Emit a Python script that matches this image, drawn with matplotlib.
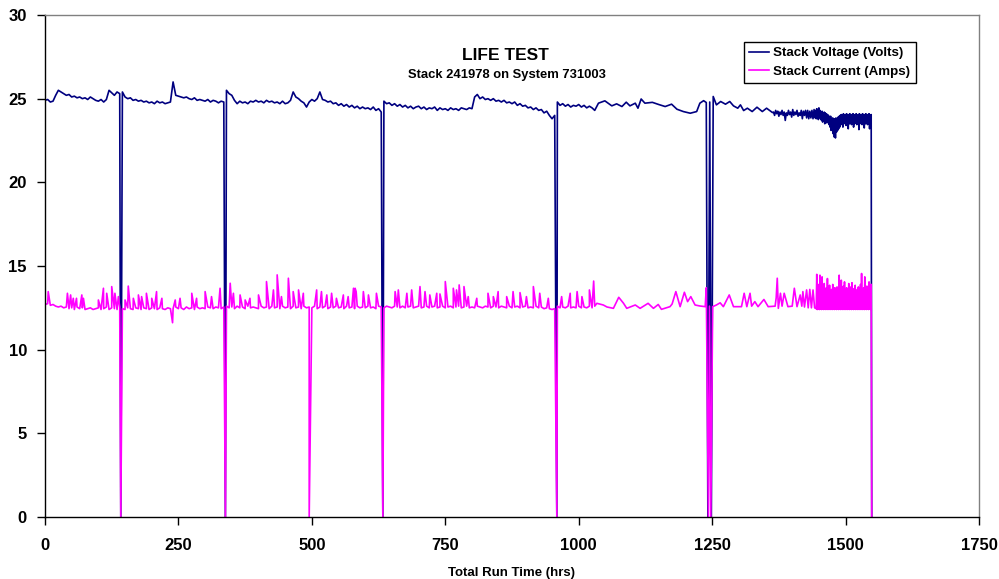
import numpy as np
import matplotlib
matplotlib.use("Agg")
import matplotlib.pyplot as plt

# ---------------- data ----------------
# Stack voltage, logged every 5 h from 0 to 1030 h
volt_dense_step = 5
volt_dense = [
    24.9, 24.95, 24.8, 24.85, 25.2, 25.5, 25.4, 25.3, 25.2, 25.25,
    25.1, 25.15, 25.05, 25.1, 25.0, 25.05, 24.95, 25.1, 25.0, 24.9,
    24.85, 24.95, 24.8, 24.95, 25.5, 25.35, 25.2, 25.4, 25.3, 25.4,
    25.1, 25.0, 25.05, 24.9, 24.95, 24.85, 24.9, 24.8, 24.85, 24.75,
    24.8, 24.7, 24.85, 24.75, 24.8, 24.7, 24.75, 24.8, 26.0, 25.2,
    25.15, 25.1, 25.05, 25.1, 25.0, 24.95, 25.05, 24.9, 24.95, 24.9,
    24.85, 24.95, 24.8, 24.9, 24.85, 24.75, 24.85, 24.8, 25.5, 25.3,
    25.2, 24.9, 24.7, 24.85, 24.75, 24.8, 24.7, 24.85, 24.8, 24.9,
    24.8, 24.85, 24.75, 24.9, 24.8, 24.85, 24.75, 24.8, 24.7, 24.85,
    24.7, 24.75, 24.9, 25.4, 25.1, 25.0, 24.85, 24.75, 24.5, 24.8,
    24.95, 24.85, 25.0, 25.4, 24.95, 24.9, 24.8, 24.85, 24.7, 24.75,
    24.6, 24.7, 24.55, 24.65, 24.5, 24.6, 24.45, 24.55, 24.4, 24.5,
    24.4, 24.45, 24.35, 24.5, 24.3, 24.4, 24.2, 24.85, 24.7, 24.75,
    24.6, 24.7, 24.55, 24.65, 24.5, 24.6, 24.45, 24.55, 24.4, 24.5,
    24.55, 24.4, 24.5, 24.35, 24.45, 24.4, 24.5, 24.3, 24.45, 24.35,
    24.4, 24.3, 24.45, 24.35, 24.4, 24.3, 24.45, 24.4, 24.35, 24.45,
    24.4, 25.1, 25.25, 25.0, 25.1, 24.95, 25.0, 24.9, 25.0, 24.85,
    24.9, 24.8, 24.9, 24.75, 24.8, 24.7, 24.8, 24.6, 24.7, 24.55,
    24.6, 24.45, 24.5, 24.35, 24.45, 24.3, 24.35, 24.15, 24.25, 24.0,
    23.8, 24.0, 24.8, 24.6, 24.7, 24.55, 24.65, 24.5, 24.6, 24.55,
    24.65, 24.5, 24.6, 24.45, 24.55, 24.45, 24.3,
]
# sparse readings and shutdowns (hours, volts)
volt_sparse_hrs = [142, 338, 633, 959,
                   1037, 1049, 1062, 1071, 1081, 1089, 1096, 1106, 1111, 1117,
                   1124, 1138, 1150, 1162, 1174, 1184, 1196, 1209, 1221, 1227,
                   1234, 1239, 1242, 1245.5, 1248.5, 1252, 1258, 1266, 1275,
                   1283, 1290, 1298, 1303, 1309, 1316, 1325, 1334, 1344, 1352,
                   1363]
volt_sparse = [0, 0, 0, 0,
               24.73, 24.87, 24.57, 24.69, 24.53, 24.79, 24.57, 24.73, 24.43, 24.98,
               24.73, 24.78, 24.65, 24.53, 24.67, 24.37, 24.23, 24.13, 24.23, 24.73,
               24.88, 24.77, 0, 24.8, 0, 25.13, 24.63, 24.83, 24.67,
               24.83, 24.57, 24.43, 24.63, 24.29, 24.43, 24.23, 24.49, 24.23, 24.43,
               24.17]
# 2-hourly readings 1365-1443 h
volt_mid_start, volt_mid_step = 1365, 2
volt_mid = [24.2, 24.0, 24.3, 24.1, 24.25, 23.95, 24.2, 24.05, 24.3, 24.0,
            24.2, 23.7, 24.15, 24.0, 24.3, 24.05, 24.2, 23.9, 24.35, 24.0,
            24.2, 24.05, 24.3, 23.95, 24.15, 24.0, 24.3, 23.8, 24.25, 24.0,
            24.3, 23.85, 24.3, 23.8, 24.25, 23.85, 24.3, 23.8, 24.35, 23.85]
# hourly readings 1444-1548 h
volt_band_start, volt_band_step = 1444, 1
volt_band = [24.3, 23.8, 24.4, 23.85, 24.35, 23.75, 24.45, 23.9, 24.3, 23.8,
             24.2, 23.7, 24.25, 23.6, 24.1, 23.75, 24.2, 23.5, 24.15, 23.65,
             24.1, 23.55, 24.05, 23.6, 24.0, 23.45,
             23.9, 23.3, 23.95, 23.1, 23.8, 23.2, 23.85, 22.9, 23.75, 22.7,
             23.8, 22.65, 23.85, 23.0, 23.8, 23.1, 23.9, 23.2, 23.95, 23.3,
             24.0, 23.5, 24.05, 23.45, 24.0, 23.3, 24.1, 23.5, 24.0, 23.55,
             24.05, 23.4, 24.1, 23.5, 24.0, 23.2, 24.05, 23.5, 24.1, 23.55,
             24.0, 23.45, 24.05, 23.5, 24.1, 23.3, 24.0, 23.5, 24.05, 23.55,
             24.1, 23.45, 24.0, 23.5, 24.05, 23.15, 24.1, 23.5, 24.0, 23.55,
             24.05, 23.45, 24.1, 23.5, 24.0, 23.25, 24.05, 23.5, 24.1, 23.55,
             24.0, 23.45, 24.05, 23.5, 24.1, 23.2, 24.0, 23.5, 24.05]
volt_end_hrs = [1549]
volt_end = [0]

# Stack current, logged every 5 h from 0 to 1030 h
curr_dense_step = 5
curr_dense = [
    12.7, 12.75, 12.65, 12.7, 12.6, 12.55, 12.6, 12.5, 12.55, 12.45,
    12.5, 12.4, 12.55, 12.45, 12.5, 12.4, 12.45, 12.5, 12.4, 12.45,
    12.5, 12.4, 12.45, 12.55, 12.4, 12.5, 12.45, 12.4, 12.55, 12.45,
    12.4, 12.5, 12.45, 12.4, 12.5, 12.45, 12.4, 12.5, 12.45, 12.4,
    12.5, 12.45, 12.4, 12.5, 12.45, 12.4, 12.5, 12.45, 12.45, 12.55,
    12.45, 12.5, 12.4, 12.55, 12.45, 12.5, 12.4, 12.55, 12.45, 12.5,
    12.45, 12.55, 12.5, 12.45, 12.55, 12.5, 12.45, 12.55, 12.6, 12.5,
    12.55, 12.45, 12.6, 12.5, 12.55, 12.45, 12.6, 12.5, 12.55, 12.5,
    12.45, 12.6, 12.5, 12.55, 12.45, 12.6, 12.5, 12.55, 12.45, 12.6,
    12.5, 12.55, 12.45, 12.6, 12.5, 12.55, 12.45, 12.6, 12.5, 12.55,
    12.5, 12.6, 12.45, 12.55, 12.5, 12.6, 12.45, 12.55, 12.5, 12.6,
    12.5, 12.55, 12.45, 12.6, 12.5, 12.55, 12.45, 12.6, 12.5, 12.55,
    12.5, 12.6, 12.5, 12.55, 12.45, 12.6, 12.55, 12.5, 12.6, 12.55,
    12.5, 12.6, 12.55, 12.5, 12.6, 12.5, 12.55, 12.6, 12.5, 12.55,
    12.6, 12.5, 12.55, 12.6, 12.5, 12.55, 12.6, 12.5, 12.55, 12.6,
    12.5, 12.55, 12.6, 12.5, 12.55, 12.6, 12.5, 12.55, 12.6, 12.5,
    12.55, 12.5, 12.6, 12.55, 12.5, 12.6, 12.55, 12.5, 12.6, 12.55,
    12.5, 12.6, 12.55, 12.5, 12.6, 12.5, 12.55, 12.6, 12.5, 12.55,
    12.6, 12.5, 12.55, 12.5, 12.6, 12.5, 12.55, 12.45, 12.5, 12.45,
    12.4, 12.45, 12.6, 12.5, 12.55, 12.5, 12.6, 12.5, 12.55, 12.5,
    12.6, 12.5, 12.55, 12.5, 12.6, 12.5, 12.6,
]
# current spikes, dips, shutdowns and sparse readings (hours, amps)
curr_events_hrs = [6, 42, 48, 53, 59, 69, 72, 100, 109.5, 115.6, 125, 131, 137.5,
                   142, 150, 156, 165.5, 175, 181, 190, 200, 209, 219, 239, 244,
                   253, 275, 284, 300, 312, 328, 338, 347, 353, 365.5, 375, 384,
                   400, 415, 428, 435, 443, 456, 465, 475, 484, 495, 509, 518,
                   528, 537, 546, 559, 568, 578, 581, 583, 596.5, 606, 621, 633,
                   656, 662, 678, 687, 702.6, 712, 721, 734, 740, 750, 765, 771,
                   776, 785, 793, 809, 830, 840, 849, 865, 877, 890, 902, 915,
                   927, 943, 959, 968, 984, 997, 1006, 1020, 1028,
                   1034, 1046, 1053, 1065, 1075, 1084, 1090, 1106, 1115, 1130,
                   1140, 1149, 1155, 1171, 1175, 1182, 1190, 1198, 1204, 1210,
                   1218, 1227, 1237, 1239, 1243, 1245, 1247.5, 1251, 1258, 1265,
                   1271, 1282, 1290, 1305, 1310, 1315, 1321, 1324, 1330, 1336,
                   1347, 1355, 1368, 1370, 1372, 1374, 1378, 1381, 1385, 1392,
                   1400, 1404, 1409, 1415, 1418, 1420, 1423, 1427, 1430, 1433,
                   1436, 1439, 1442]
curr_events = [13.47, 13.37, 13.27, 13.07, 13.07, 13.27, 13.07, 12.97, 13.67, 13.37, 13.77, 13.37, 13.17,
               0, 12.97, 13.8, 13.07, 13.27, 13.17, 13.37, 13.07, 13.47, 13.07, 11.61, 12.97,
               13.07, 13.37, 13.07, 13.47, 13.17, 13.67, 0, 13.97, 13.37, 13.27, 12.97, 13.07,
               13.27, 14.07, 13.57, 14.47, 13.17, 14.27, 13.47, 13.57, 13.37, 0, 13.57, 13.47,
               13.27, 13.37, 13.07, 13.27, 13.17, 13.67, 13.67, 13.47, 13.47, 13.27, 13.37, 0,
               13.47, 13.57, 13.37, 13.57, 13.77, 13.47, 13.27, 13.37, 13.33, 14.07, 13.67, 13.57,
               13.87, 13.77, 13.17, 13.07, 13.37, 13.17, 13.47, 13.17, 13.47, 13.41, 13.17, 13.77,
               13.37, 13.07, 0, 13.17, 13.37, 13.47, 13.17, 13.57, 14.1,
               12.77, 12.67, 12.55, 12.47, 13.13, 12.77, 12.47, 12.67, 12.47, 12.77,
               12.47, 12.7, 12.41, 12.57, 12.73, 13.47, 12.57, 13.43, 12.87, 13.17,
               12.67, 12.61, 12.57, 13.7, 0, 12.6, 0, 12.57, 12.67, 12.8,
               12.57, 13.27, 12.57, 12.57, 13.37, 12.57, 13.37, 12.6, 12.87, 12.57,
               13.0, 12.57, 12.6, 13.1, 14.27, 12.47, 13.37, 12.6, 13.37, 12.57,
               12.6, 13.67, 12.57, 13.27, 12.6, 13.47, 12.55, 13.57, 12.5, 13.6,
               12.5, 13.57, 12.5]
# hourly readings 1445-1548 h
curr_band_start, curr_band_step = 1445, 1
curr_band = [12.45, 14.5, 12.4, 13.6, 12.45, 13.9, 12.4, 14.45, 12.45, 13.5,
             12.4, 14.35, 12.45, 13.4, 12.4, 13.95, 12.45, 13.3, 12.4, 13.7,
             12.45, 14.25, 12.4, 13.45, 12.45, 13.85, 12.4, 13.35, 12.45, 13.6,
             12.4, 13.9, 12.45, 13.4, 12.4, 13.7, 12.45, 13.3, 12.4, 13.75,
             12.45, 13.5, 12.4, 14.45, 12.45, 13.6, 12.4, 14.15, 12.45, 13.35,
             12.4, 13.8, 12.45, 14.05, 12.4, 13.45, 12.45, 13.7, 12.4, 13.3,
             12.45, 13.95, 12.4, 13.5, 12.45, 13.75, 12.4, 14.0, 12.45, 13.4,
             12.4, 13.65, 12.45, 13.85, 12.4, 13.3, 12.45, 13.6, 12.4, 13.75,
             12.45, 13.45, 12.4, 13.9, 12.45, 14.55, 12.4, 13.5, 12.45, 13.7,
             12.4, 14.35, 12.45, 13.4, 12.4, 13.8, 12.45, 13.55, 12.4, 14.05,
             12.45, 13.6, 12.4, 13.9]
curr_end_hrs = [1549]
curr_end = [0]

x_ticks = [0, 250, 500, 750, 1000, 1250, 1500, 1750]
y_ticks = [0, 5, 10, 15, 20, 25, 30]
title = "LIFE TEST"
subtitle = "Stack 241978 on System 731003"
x_label = "Total Run Time (hrs)"
volt_label = "Stack Voltage (Volts)"
curr_label = "Stack Current (Amps)"


def assemble(parts):
    hrs = np.concatenate([np.asarray(h, float) for h, _ in parts])
    vals = np.concatenate([np.asarray(v, float) for _, v in parts])
    order = np.argsort(hrs, kind="stable")
    return hrs[order], vals[order]


v_hrs, v_vals = assemble([
    (np.arange(len(volt_dense)) * volt_dense_step, volt_dense),
    (volt_sparse_hrs, volt_sparse),
    (volt_mid_start + np.arange(len(volt_mid)) * volt_mid_step, volt_mid),
    (volt_band_start + np.arange(len(volt_band)) * volt_band_step, volt_band),
    (volt_end_hrs, volt_end),
])
c_hrs, c_vals = assemble([
    (np.arange(len(curr_dense)) * curr_dense_step, curr_dense),
    (curr_events_hrs, curr_events),
    (curr_band_start + np.arange(len(curr_band)) * curr_band_step, curr_band),
    (curr_end_hrs, curr_end),
])

# ---------------- figure ----------------
plt.rcParams["font.family"] = ["Liberation Sans", "DejaVu Sans"]
fig = plt.figure(figsize=(9.99, 5.79), dpi=100)
ax = fig.add_axes([45 / 999, 62 / 579, 934 / 999, 502 / 579])

ax.plot(v_hrs, v_vals, color="#000080", lw=1.2, label=volt_label)
ax.plot(c_hrs, c_vals, color="#FF00FF", lw=1.2, label=curr_label)

ax.set_xlim(0, 1750)
ax.set_ylim(0, 30)
ax.set_xticks(x_ticks)
ax.set_yticks(y_ticks)
ax.tick_params(direction="out", length=6, width=1, labelsize=12)
ax.tick_params(axis="x", pad=9)
ax.tick_params(axis="y", pad=7)
for lab in ax.get_xticklabels() + ax.get_yticklabels():
    lab.set_fontweight("bold")
for s in ("left", "bottom"):
    ax.spines[s].set_color("black")
    ax.spines[s].set_linewidth(1)
for s in ("top", "right"):
    ax.spines[s].set_color("#808080")
    ax.spines[s].set_linewidth(1)

fig.text(505 / 999, 1 - 55 / 579, title, ha="center", va="center",
         fontsize=12.5, fontweight="bold")
fig.text(507 / 999, 1 - 75 / 579, subtitle, ha="center", va="center",
         fontsize=9.4, fontweight="bold")
fig.text(511.5 / 999, 1 - 573 / 579, x_label, ha="center", va="center",
         fontsize=9.5, fontweight="bold")

leg = ax.legend(loc="upper left", bbox_to_anchor=((744 - 45) / 934, (517 - 41.7) / 502),
                borderaxespad=0, frameon=True, fancybox=False, framealpha=1,
                edgecolor="black", prop={"weight": "bold", "size": 9.6},
                handlelength=1.5, handletextpad=0.3, borderpad=0.4,
                labelspacing=0.45)
leg.get_frame().set_linewidth(1)

fig.savefig("out.png", dpi=100)
